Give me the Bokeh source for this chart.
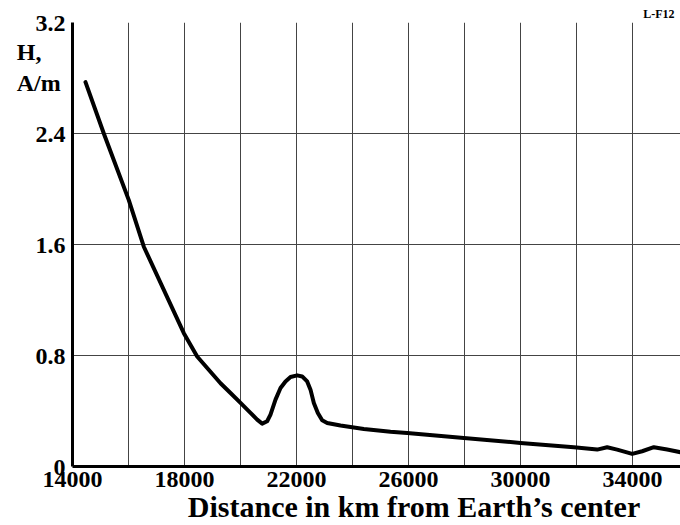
from bokeh.plotting import figure
from bokeh.models import Range1d, FixedTicker, Title
from bokeh.embed import file_html
from bokeh.resources import INLINE

# Data
distance_km = [14464, 15118, 16011, 16547, 17976, 18452, 19286, 19643, 20000, 20357,
               20595, 20774, 20952, 21071, 21250, 21429, 21607, 21786, 22024, 22202,
               22381, 22500, 22619, 22762, 22917, 23095, 23571, 24405, 25357, 25952,
               27976, 30000, 31905, 32738, 33095, 33452, 33988, 34345, 34762, 35238,
               35714]
field_H = [2.77, 2.40, 1.92, 1.584, 0.961, 0.793, 0.60, 0.530, 0.458, 0.386,
           0.338, 0.309, 0.326, 0.374, 0.482, 0.566, 0.613, 0.645, 0.657, 0.649,
           0.613, 0.554, 0.458, 0.386, 0.333, 0.314, 0.295, 0.271, 0.25, 0.242,
           0.206, 0.17, 0.139, 0.122, 0.139, 0.122, 0.091, 0.11, 0.139, 0.122,
           0.103]

x_label_ticks = [14000, 18000, 22000, 26000, 30000, 34000]
x_grid_ticks = [14000, 16000, 18000, 20000, 22000, 24000, 26000, 28000, 30000, 32000, 34000]
y_ticks = [0, 0.8, 1.6, 2.4, 3.2]
y_tick_labels = ["0", "0.8", "1.6", "2.4", "3.2"]
x_title = "Distance in km from Earth\u2019s center"
y_title_1 = "H,"
y_title_2 = "A/m"
y_title_pos = [2.985, 2.765]   # where the unit title lines sit along the y axis
corner_tag = "L-F12"

FONT = "Liberation Serif"

p = figure(width=680, height=525, output_backend="svg", toolbar_location=None,
           x_range=Range1d(14000, 35714), y_range=Range1d(0, 3.2),
           min_border_left=72, min_border_right=0, min_border_top=22, min_border_bottom=58)
p.outline_line_color = None
p.background_fill_color = "white"
p.border_fill_color = "white"

# grids
p.xgrid.ticker = FixedTicker(ticks=x_grid_ticks)
p.ygrid.ticker = FixedTicker(ticks=y_ticks)
for g in (p.xgrid, p.ygrid):
    g.grid_line_color = "#444444"
    g.grid_line_width = 1

# axes
p.xaxis.ticker = FixedTicker(ticks=x_label_ticks)
p.yaxis.ticker = FixedTicker(ticks=y_ticks + y_title_pos)
overrides = {t: s for t, s in zip(y_ticks, y_tick_labels)}
overrides[y_title_pos[0]] = y_title_1 + "\u00a0\u00a0\u00a0\u00a0"
overrides[y_title_pos[1]] = y_title_2 + "\u2009"
p.yaxis.major_label_overrides = overrides
for ax in (p.xaxis, p.yaxis):
    ax.axis_line_color = "black"
    ax.axis_line_width = 3
    ax.major_tick_out = 0
    ax.major_tick_in = 0
    ax.minor_tick_out = 0
    ax.minor_tick_in = 0
    ax.major_label_text_font = FONT
    ax.major_label_text_font_style = "bold"
    ax.major_label_text_font_size = "24px"
    ax.major_label_text_color = "black"
p.xaxis.major_label_standoff = 5
p.yaxis.major_label_standoff = 7

# leading no-break spaces shift the centred title to the right, as in the reference
p.xaxis.axis_label = "\u00a0" * 10 + x_title
p.xaxis.axis_label_text_font = FONT
p.xaxis.axis_label_text_font_style = "bold"
p.xaxis.axis_label_text_font_size = "30px"
p.xaxis.axis_label_text_color = "black"
p.xaxis.axis_label_standoff = 0

p.line(distance_km, field_H, line_color="black", line_width=4, line_join="round", line_cap="round")

p.add_layout(Title(text=corner_tag, align="right", text_font=FONT, text_font_style="bold",
                   text_font_size="12px", text_color="black", standoff=4, offset=6), "above")

open("out.html", "w").write(file_html(p, INLINE))
